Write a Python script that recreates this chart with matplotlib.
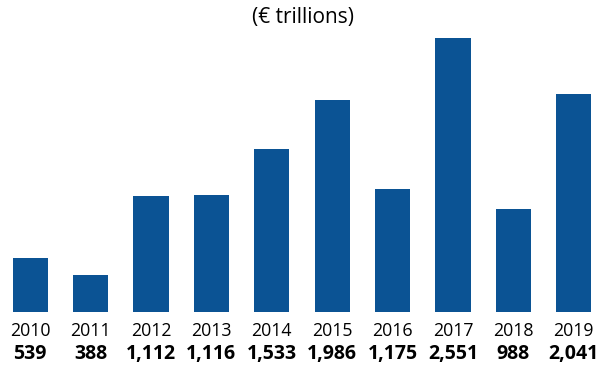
import matplotlib
matplotlib.use("Agg")
import matplotlib.pyplot as plt
import matplotlib.transforms as mtransforms

years = ["2010", "2011", "2012", "2013", "2014", "2015", "2016", "2017", "2018", "2019"]
values = [539, 388, 1112, 1116, 1533, 1986, 1175, 2551, 988, 2041]
value_labels = ["539", "388", "1,112", "1,116", "1,533", "1,986", "1,175", "2,551", "988", "2,041"]
title = "(€ trillions)"

plt.rcParams['font.family'] = ['Open Sans', 'DejaVu Sans']

W, H = 606, 365
fig = plt.figure(figsize=(W / 100, H / 100), dpi=100)
ax = fig.add_axes([0.0, (H - 312) / H, 604 / W, 282 / H])

x = list(range(len(years)))
ax.bar(x, values, width=0.58, color='#0b5394', bottom=0)
ax.set_xlim(-0.5, len(years) - 0.5)
ax.set_ylim(50, 50 + 2573)
ax.axis('off')

trans = mtransforms.blended_transform_factory(ax.transData, fig.transFigure)
for xi, yr, vl in zip(x, years, value_labels):
    ax.text(xi, 1 - 331 / H, yr, transform=trans, ha='center', va='center',
            fontsize=12.8, color='#000000')
    ax.text(xi, 1 - 354 / H, vl, transform=trans, ha='center', va='center',
            fontsize=14, fontweight='bold', color='#000000')

fig.text(303 / W, 1 - 17 / H, title, ha='center', va='center', fontsize=15, color='#000000')

fig.savefig("out.png", dpi=100)
